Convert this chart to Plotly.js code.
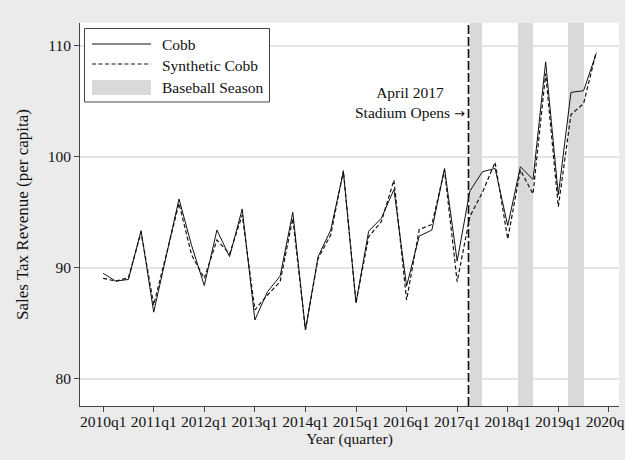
<!DOCTYPE html>
<html>
<head>
<meta charset="utf-8">
<script src="https://cdn.plot.ly/plotly-3.0.1.min.js"></script>
<style>
  html, body { margin: 0; padding: 0; background: #ebebeb; }
  #chart { width: 625px; height: 460px; }
</style>
</head>
<body>
<div id="chart"></div>
<script>
// Quarterly sales tax revenue per capita, 2010q1 .. 2019q4 (quarter index 0..39)
const quarterIndex = Array.from({length: 40}, (_, i) => i);

const cobb = [
  89.5, 88.8, 88.95, 93.35, 86.0, 91.2, 96.2, 92.0,
  88.4, 93.4, 91.0, 95.3, 85.3, 87.85, 89.25, 95.0,
  84.4, 91.0, 93.4, 98.65, 86.85, 93.3, 94.45, 97.05,
  88.35, 92.85, 93.4, 98.95, 90.6, 96.9, 98.65, 98.95,
  93.8, 99.1, 97.95, 108.55, 96.55, 105.8, 105.95, 109.3
];

const syntheticCobb = [
  89.05, 88.8, 89.1, 93.2, 86.65, 91.2, 95.8, 91.15,
  89.05, 92.5, 91.25, 94.75, 86.2, 87.55, 88.75, 94.45,
  84.4, 90.85, 92.95, 98.75, 86.85, 92.8, 94.15, 97.9,
  87.1, 93.45, 93.9, 98.8, 88.75, 94.6, 96.8, 99.5,
  92.6, 98.8, 96.65, 107.5, 95.5, 103.8, 104.8, 109.45
];

// Baseball seasons (quarter index where each shaded band starts / ends)
const seasonStart = [29.0, 32.8, 36.8];
const seasonEnd   = [30.0, 34.0, 38.0];

// Stadium opening (April 2017)
const stadiumOpens = 28.9;

// Axis ticks
const xTickVals = [0, 4, 8, 12, 16, 20, 24, 28, 32, 36, 40];
const xTickText = ['2010q1', '2011q1', '2012q1', '2013q1', '2014q1', '2015q1',
                   '2016q1', '2017q1', '2018q1', '2019q1', '2020q1'];
const yTickVals = [80, 90, 100, 110];

// Ranges
const X_RANGE = [-1.83, 40.8];
const Y_RANGE = [77.55, 112.05];

const FONT = 'Liberation Serif, Times New Roman, serif';
const INK = '#111';
const BAND = '#d9d9d9';

// plot-area geometry in pixels (used for the hand-built legend box)
const M = {l: 80, r: 6, t: 23, b: 54};
const W = 625, H = 460;
const PW = W - M.l - M.r, PH = H - M.t - M.b;
const px = x => (x - M.l) / PW;
const py = y => 1 - (y - M.t) / PH;

const bands = {
  type: 'bar',
  x: seasonStart.map((s, i) => (s + seasonEnd[i]) / 2),
  width: seasonStart.map((s, i) => seasonEnd[i] - s),
  base: seasonStart.map(() => Y_RANGE[0]),
  y: seasonStart.map(() => Y_RANGE[1] - Y_RANGE[0]),
  marker: {color: BAND, line: {width: 0}},
  showlegend: false,
  hoverinfo: 'skip'
};

const cobbTrace = {
  type: 'scatter', mode: 'lines',
  x: quarterIndex, y: cobb,
  line: {color: INK, width: 1},
  showlegend: false
};

const synthTrace = {
  type: 'scatter', mode: 'lines',
  x: quarterIndex, y: syntheticCobb,
  line: {color: INK, width: 1.2, dash: '4px,2.5px'},
  showlegend: false
};

const shapes = [
  // stadium opening marker
  {type: 'line', xref: 'x', yref: 'paper', x0: stadiumOpens, x1: stadiumOpens, y0: 0, y1: 1,
   line: {color: INK, width: 1.7, dash: '9px,3px'}, layer: 'above'},
  // legend frame
  {type: 'rect', xref: 'paper', yref: 'paper', x0: px(84.5), x1: px(269.5), y0: py(102), y1: py(28.5),
   fillcolor: '#ffffff', line: {color: '#444', width: 1}, layer: 'above'},
  {type: 'line', xref: 'paper', yref: 'paper', x0: px(92), x1: px(151), y0: py(44), y1: py(44),
   line: {color: INK, width: 1}, layer: 'above'},
  {type: 'line', xref: 'paper', yref: 'paper', x0: px(92), x1: px(151), y0: py(64), y1: py(64),
   line: {color: INK, width: 1.2, dash: '4px,2.5px'}, layer: 'above'},
  {type: 'rect', xref: 'paper', yref: 'paper', x0: px(92), x1: px(151), y0: py(95), y1: py(80),
   fillcolor: BAND, line: {width: 0}, layer: 'above'}
];

const legendLabels = ['Cobb', 'Synthetic Cobb', 'Baseball Season'];
const legendRows = [44, 65, 88];

const annotations = legendLabels.map((t, i) => ({
  text: t, xref: 'paper', yref: 'paper', x: px(160), y: py(legendRows[i]),
  xanchor: 'left', yanchor: 'middle', showarrow: false,
  font: {family: FONT, size: 15.5, color: INK}
}));

// stadium note, centred two-line text to the left of the marker
annotations.push({
  text: 'April 2017<br>Stadium Opens <span style="font-family:DejaVu Sans;font-size:13px">\u2192</span>',
  xref: 'x', yref: 'y', x: stadiumOpens, y: 104.9,
  xanchor: 'right', yanchor: 'middle', xshift: -2, align: 'center',
  showarrow: false,
  font: {family: FONT, size: 15.5, color: INK}
});

const layout = {
  width: W, height: H,
  margin: M,
  paper_bgcolor: '#ebebeb',
  plot_bgcolor: '#ffffff',
  font: {family: FONT, size: 15, color: INK},
  showlegend: false,
  bargap: 0,
  xaxis: {
    range: X_RANGE,
    tickmode: 'array', tickvals: xTickVals, ticktext: xTickText,
    ticklabeloverflow: 'allow',
    ticklabelstandoff: -4,
    ticks: 'outside', ticklen: 5, tickcolor: '#444', tickwidth: 1,
    showgrid: false, zeroline: false,
    showline: true, linecolor: '#444', linewidth: 1,
    tickfont: {family: FONT, size: 15.5, color: INK},
    title: {text: 'Year (quarter)', font: {family: FONT, size: 15.5, color: INK}, standoff: 2}
  },
  yaxis: {
    range: Y_RANGE,
    tickmode: 'array', tickvals: yTickVals,
    ticks: 'outside', ticklen: 5, tickcolor: '#444', tickwidth: 1,
    showgrid: true, gridcolor: '#e4e4e4', gridwidth: 1.5,
    zeroline: false,
    showline: true, linecolor: '#444', linewidth: 1,
    tickfont: {family: FONT, size: 15.5, color: INK},
    title: {text: 'Sales Tax Revenue (per capita)', font: {family: FONT, size: 17, color: INK}, standoff: 14}
  },
  shapes: shapes,
  annotations: annotations
};

Plotly.newPlot('chart', [bands, cobbTrace, synthTrace], layout, {staticPlot: true, displayModeBar: false});
</script>
</body>
</html>
